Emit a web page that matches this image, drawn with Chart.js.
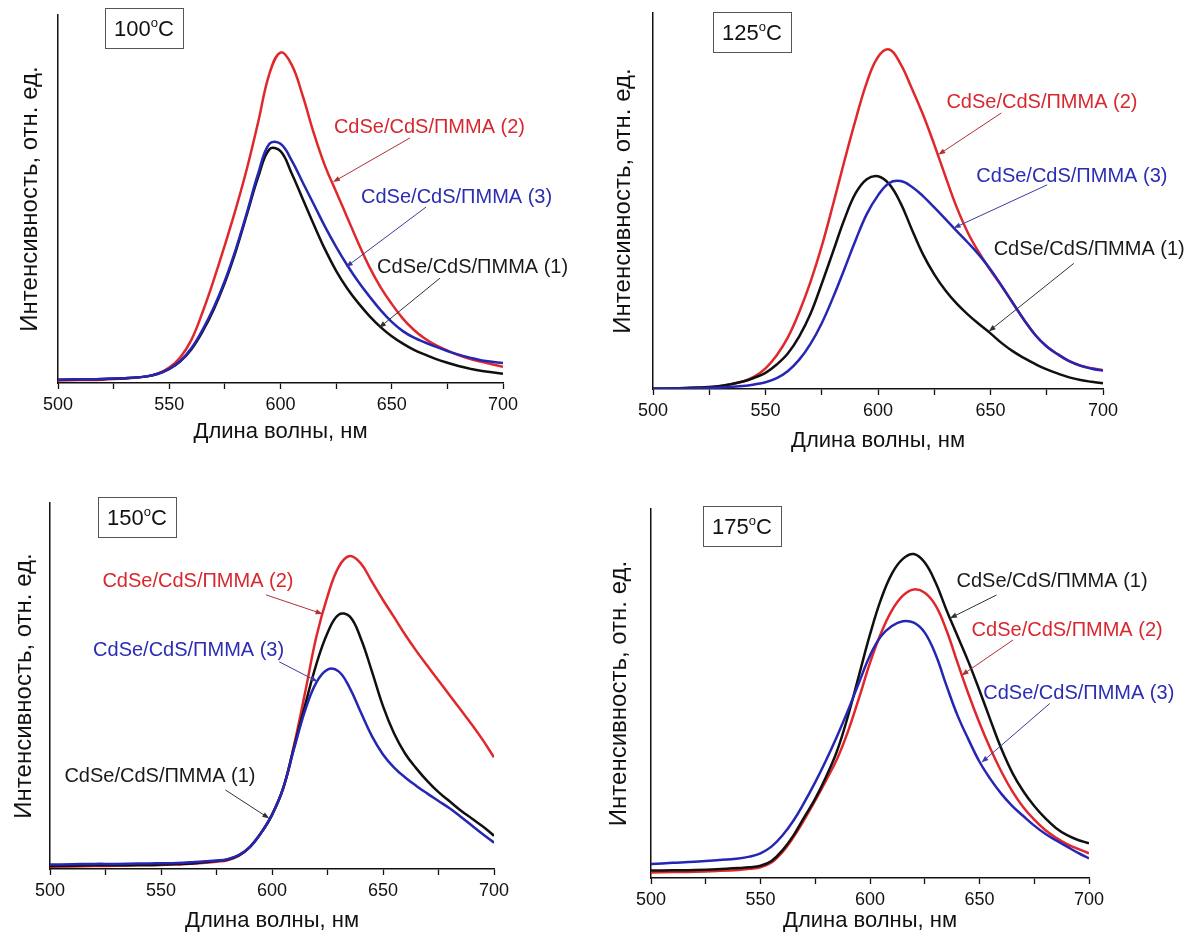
<!DOCTYPE html>
<html lang="ru">
<head>
<meta charset="utf-8">
<title>Спектры CdSe/CdS/ПММА</title>
<script src="https://cdn.jsdelivr.net/npm/chart.js@4.4.1/dist/chart.umd.min.js"></script>
<style>
  html, body { margin: 0; padding: 0; background: #fff; }
  #wrap { position: relative; width: 1196px; height: 934px; }
  canvas { position: absolute; }
</style>
</head>
<body>
<div id="wrap">
  <canvas id="c100" width="598" height="467" style="left:0;top:0"></canvas>
  <canvas id="c125" width="598" height="467" style="left:598px;top:0"></canvas>
  <canvas id="c150" width="598" height="467" style="left:0;top:467px"></canvas>
  <canvas id="c175" width="598" height="467" style="left:598px;top:467px"></canvas>
</div>
<script>
'use strict';

// >>> DATA <<<
// wavelength grid, nm
let wavelengths = [500, 510, 520, 530, 540, 545, 550, 555, 560, 565, 570, 575, 580, 585, 590, 595,
  600, 605, 610, 615, 620, 625, 630, 635, 640, 645, 650, 655, 660, 665, 670, 675, 680, 685, 690, 695, 700];

let xTicks = [500, 550, 600, 650, 700];
let sampleNames = ['CdSe/CdS/ПММА (1)', 'CdSe/CdS/ПММА (2)', 'CdSe/CdS/ПММА (3)'];
let temperatures = ['100', '125', '150', '175'];

// intensity, rel. units (0..100 = axis height)
let t100s1 = [0.9, 1.0, 1.1, 1.3, 1.8, 2.5, 3.8, 5.9, 9.2, 14, 20, 27.3, 36, 46, 56, 63.5,
  63, 57, 50, 43, 36.3, 30.5, 25.7, 21.7, 18.2, 15.2, 12.7, 10.7, 9, 7.7, 6.5, 5.5, 4.6, 3.9, 3.3, 2.9, 2.5];
let t100s2 = [0.7, 0.8, 0.9, 1.2, 1.8, 2.6, 4.2, 7.0, 11.8, 19.3, 28, 37.5, 47.5, 58.5, 71, 84,
  89.8, 86.5, 78, 67.8, 59, 52, 45, 38, 31.5, 26, 21.5, 17.5, 14.4, 12, 10.2, 8.8, 7.6, 6.6, 5.8, 5.1, 4.4];
let t100s3 = [0.9, 1.0, 1.1, 1.3, 1.8, 2.5, 3.8, 6.0, 9.5, 14.5, 20.5, 27.8, 36.5, 46.5, 57, 65,
  65, 60.5, 54.5, 48.5, 42.5, 37, 32, 27.5, 23.5, 19.8, 16.6, 14.1, 12.3, 11, 9.8, 8.7, 7.7, 6.9, 6.2, 5.8, 5.4];

let t125s1 = [0.1, 0.2, 0.4, 0.8, 2.0, 3.0, 4.3, 6.5, 9.5, 14, 20, 28, 36.5, 45, 52, 55.8,
  56.6, 54.5, 49.5, 42.5, 35.8, 30.5, 26.2, 22.7, 19.8, 17.2, 14.8, 12.2, 10, 8.2, 6.6, 5.2, 4.1, 3.1, 2.4, 1.9, 1.5];
let t125s2 = [0.0, 0.1, 0.3, 0.8, 2.0, 3.3, 5.5, 9, 13.8, 20.5, 28.5, 38, 49, 60.5, 71.5, 81.5,
  88.3, 90.3, 86.5, 80, 73, 65, 56.5, 48.3, 41.5, 36.2, 31.6, 27.3, 22.8, 18.3, 14.3, 11.3, 9.2, 7.4, 6.2, 5.5, 5.0];
let t125s3 = [0.0, 0.1, 0.2, 0.4, 0.8, 1.2, 1.8, 2.9, 4.8, 7.8, 12, 17.5, 24.3, 31.8, 39.5, 46.5,
  51.5, 54.8, 55.3, 53.8, 51.3, 48.3, 45.2, 42, 38.9, 35.6, 31.8, 27.4, 22.8, 18.3, 14.3, 11.3, 9.2, 7.4, 6.2, 5.4, 4.9];

let t150s1 = [0.8, 0.9, 1.0, 1.0, 1.1, 1.1, 1.2, 1.3, 1.4, 1.6, 1.9, 2.2, 2.6, 3.7, 6.0, 9.8,
  14.8, 22, 33.5, 45, 56, 64.5, 69.5, 69, 63, 54, 44.5, 37, 31.5, 27.5, 24, 21, 18.5, 16, 13.8, 11.6, 9.1];
let t150s2 = [0.6, 0.7, 0.8, 0.9, 1.0, 1.0, 1.1, 1.2, 1.3, 1.5, 1.7, 2.0, 2.4, 3.6, 6.0, 9.8,
  14.8, 22, 34, 48.5, 63.5, 74.5, 82.5, 85.5, 83.5, 78.5, 73.5, 68.8, 64, 59.6, 55.5, 51.5, 47.5, 43.5, 39.5, 35.2, 30.5];
let t150s3 = [1.2, 1.3, 1.4, 1.4, 1.5, 1.5, 1.6, 1.6, 1.7, 1.9, 2.1, 2.3, 2.7, 3.8, 6.0, 9.8,
  14.8, 22, 33, 43.5, 51, 54.5, 54, 49.5, 42.8, 36.3, 31.3, 27.7, 25, 22.7, 20.6, 18.6, 16.6, 14.3, 11.9, 9.5, 7.2];

let t175s1 = [2.0, 2.1, 2.2, 2.4, 2.7, 2.9, 3.3, 4.6, 7.5, 11.5, 16.5, 21.5, 27.5, 34.5, 44, 55,
  66, 75.5, 82.5, 86.5, 87.8, 85.5, 80, 72.5, 65.5, 58.5, 50.8, 42.8, 35, 28.5, 23.5, 19.5, 16.2, 13.5, 11.6, 10.3, 9.4];
let t175s2 = [1.5, 1.6, 1.7, 1.9, 2.2, 2.5, 2.9, 4.2, 7.0, 11, 15.8, 21, 26.5, 32.3, 39.8, 48.8,
  58.3, 66.3, 72.5, 76.5, 78.2, 77.3, 73.8, 67, 58.3, 49.8, 42, 35, 28.8, 23.5, 19.2, 15.8, 13, 10.9, 9.2, 7.9, 6.7];
let t175s3 = [3.8, 4.1, 4.4, 4.8, 5.3, 5.8, 6.7, 8.5, 11.5, 15.5, 20.5, 26, 32, 38.5, 45.5, 53,
  60.3, 65.5, 68.3, 69.6, 69.2, 66.5, 60.5, 52, 44, 37.5, 31.5, 26.8, 22.8, 19.5, 16.8, 14.2, 12, 10.2, 8.5, 6.8, 5.3];


// >>> STYLE <<<
const FONT = "'Liberation Sans', Arial, Helvetica, sans-serif";
const W = 598;
const H = 467;
// line colour, label colour, arrow colour for samples (1), (2), (3)
const lineColors = ['#101010', '#e0282c', '#2626b4'];
const textColors = ['#1a1a1a', '#d8282f', '#2b2db3'];
const arrowColors = ['#333333', '#b03038', '#3b3ba0'];

Chart.defaults.font.family = FONT;

// panel layout (canvas px) and label anchors (nm, rel. units)
let panels = [
  {
    id: 'c100', temp: temperatures[0], series: [t100s1, t100s2, t100s3],
    area: { left: 58, top: 15, right: 503, bottom: 383 }, yTitleX: 30, xTitleY: 432, box: { x: 105, y: 8 },
    notes: [
      { s: 1, at: [624, 69.3], from: [658.2, 66.6], to: [623.6, 54.6] },
      { s: 2, at: [636.2, 50.5], from: [665.4, 47.8], to: [629.4, 31.5] },
      { s: 0, at: [643.4, 31.5], from: [671.7, 28.5], to: [644.3, 15] }
    ]
  },
  {
    id: 'c125', temp: temperatures[1], series: [t125s1, t125s2, t125s3],
    area: { left: 55, top: 13, right: 505, bottom: 389 }, yTitleX: 25, xTitleY: 441, box: { x: 115, y: 12 },
    notes: [
      { s: 1, at: [630.4, 76.3], from: [654.8, 73.4], to: [626.8, 62.3] },
      { s: 2, at: [643.7, 56.4], from: [675.2, 54.3], to: [633.6, 42.8] },
      { s: 0, at: [651.4, 37], from: [687, 33.4], to: [649.2, 15.3] }
    ]
  },
  {
    id: 'c150', temp: temperatures[2], series: [t150s1, t150s2, t150s3],
    area: { left: 50, top: 36, right: 494, bottom: 402 }, yTitleX: 24, xTitleY: 454, box: { x: 98, y: 30 },
    notes: [
      { s: 1, at: [523.6, 78.5], from: [597.3, 74.9], to: [622.8, 69.7] },
      { s: 2, at: [519.4, 59.8], from: [603.3, 56.6], to: [620.5, 51.2] },
      { s: 0, at: [506.5, 25.2], from: [579, 21.6], to: [598.8, 13.8] }
    ]
  },
  {
    id: 'c175', temp: temperatures[3], series: [t175s1, t175s2, t175s3],
    area: { left: 53, top: 42, right: 491, bottom: 411 }, yTitleX: 21, xTitleY: 454, box: { x: 105, y: 39 },
    notes: [
      { s: 0, at: [639.5, 80.3], from: [657.8, 76.7], to: [636.5, 70.4] },
      { s: 1, at: [646.4, 67.2], from: [665.3, 64.5], to: [641.8, 54.9] },
      { s: 2, at: [651.7, 50], from: [682.1, 47.3], to: [650.9, 31.3] }
    ]
  }
];


// >>> HELPER functions <<<

function toPoints(values) {
  return wavelengths.map((w, i) => ({ x: w, y: values[i] }));
}

function drawArrow(ctx, x1, y1, x2, y2, color) {
  let ang = Math.atan2(y2 - y1, x2 - x1);
  let len = 7;
  let half = 2.6;
  ctx.strokeStyle = color;
  ctx.fillStyle = color;
  ctx.lineWidth = 1;
  ctx.beginPath();
  ctx.moveTo(x1, y1);
  ctx.lineTo(x2 - Math.cos(ang) * len * 0.8, y2 - Math.sin(ang) * len * 0.8);
  ctx.stroke();
  ctx.beginPath();
  ctx.moveTo(x2, y2);
  ctx.lineTo(x2 - Math.cos(ang) * len - Math.sin(ang) * half, y2 - Math.sin(ang) * len + Math.cos(ang) * half);
  ctx.lineTo(x2 - Math.cos(ang) * len + Math.sin(ang) * half, y2 - Math.sin(ang) * len - Math.cos(ang) * half);
  ctx.closePath();
  ctx.fill();
}

// temperature box + sample labels with arrows
const notesPlugin = {
  id: 'notes',
  afterDraw(chart) {
    let panel = panels.find(p => p.id === chart.canvas.id);
    let ctx = chart.ctx;
    let xs = chart.scales.x;
    let ys = chart.scales.y;
    ctx.save();

    // box with temperature
    let bw = 78, bh = 40;
    ctx.fillStyle = '#fff';
    ctx.fillRect(panel.box.x, panel.box.y, bw, bh);
    ctx.strokeStyle = '#555';
    ctx.lineWidth = 1;
    ctx.strokeRect(panel.box.x + 0.5, panel.box.y + 0.5, bw, bh);
    ctx.fillStyle = '#111';
    ctx.textBaseline = 'alphabetic';
    ctx.textAlign = 'left';
    ctx.font = '22px ' + FONT;
    let wNum = ctx.measureText(panel.temp).width;
    let wC = ctx.measureText('C').width;
    ctx.font = '13px ' + FONT;
    let wO = ctx.measureText('o').width;
    let tx = panel.box.x + bw / 2 - (wNum + wO + wC) / 2;
    let base = panel.box.y + bh / 2 + 8;
    ctx.font = '22px ' + FONT;
    ctx.fillText(panel.temp, tx, base);
    ctx.font = '13px ' + FONT;
    ctx.fillText('o', tx + wNum, base - 9);
    ctx.font = '22px ' + FONT;
    ctx.fillText('C', tx + wNum + wO, base);

    // sample labels
    panel.notes.forEach(n => {
      ctx.font = '20px ' + FONT;
      ctx.textBaseline = 'middle';
      ctx.fillStyle = textColors[n.s];
      ctx.fillText(sampleNames[n.s], xs.getPixelForValue(n.at[0]), ys.getPixelForValue(n.at[1]));
      drawArrow(ctx,
        xs.getPixelForValue(n.from[0]), ys.getPixelForValue(n.from[1]),
        xs.getPixelForValue(n.to[0]), ys.getPixelForValue(n.to[1]),
        arrowColors[n.s]);
    });
    ctx.restore();
  }
};

function renderPanel(panel) {
  // blue drawn on top, then black, then red
  let order = [2, 0, 1];
  let datasets = order.map(s => ({
    label: sampleNames[s],
    data: toPoints(panel.series[s]),
    borderColor: lineColors[s],
    borderWidth: 2.5,
    pointRadius: 0,
    fill: false,
    tension: 0.4
  }));

  return new Chart(document.getElementById(panel.id), {
    type: 'line',
    data: { datasets: datasets },
    options: {
      responsive: false,
      animation: false,
      events: [],
      layout: { padding: { left: 0, top: panel.area.top, right: W - panel.area.right, bottom: 0 } },
      plugins: {
        legend: { display: false },
        tooltip: { enabled: false }
      },
      scales: {
        x: {
          type: 'linear',
          min: xTicks[0],
          max: xTicks[xTicks.length - 1],
          grid: { display: true, drawOnChartArea: false, drawTicks: true, tickLength: 6, tickColor: '#111', tickWidth: 1.3 },
          border: { display: true, color: '#111', width: 1.5 },
          ticks: {
            stepSize: 25,
            autoSkip: false,
            maxRotation: 0,
            padding: 5,
            color: '#111',
            font: { size: 18 },
            callback: v => (xTicks.includes(v) ? String(v) : '')
          },
          title: {
            display: true,
            text: 'Длина волны, нм',
            color: '#111',
            font: { size: 22 },
            padding: { top: 0, bottom: Math.max(0, H - panel.xTitleY - 13.2) }
          },
          afterFit: s => { s.height = H - panel.area.bottom; }
        },
        y: {
          min: 0,
          max: 100,
          grid: { display: false },
          border: { display: true, color: '#111', width: 1.5 },
          ticks: { display: false },
          title: {
            display: true,
            text: 'Интенсивность, отн. ед.',
            color: '#111',
            font: { size: 24 },
            padding: { top: Math.max(0, panel.yTitleX - 14.4), bottom: 0 }
          },
          afterFit: s => { s.width = panel.area.left; }
        }
      }
    },
    plugins: [notesPlugin]
  });
}

// >>> Executable Code <<<
panels.forEach(renderPanel);
</script>
</body>
</html>
